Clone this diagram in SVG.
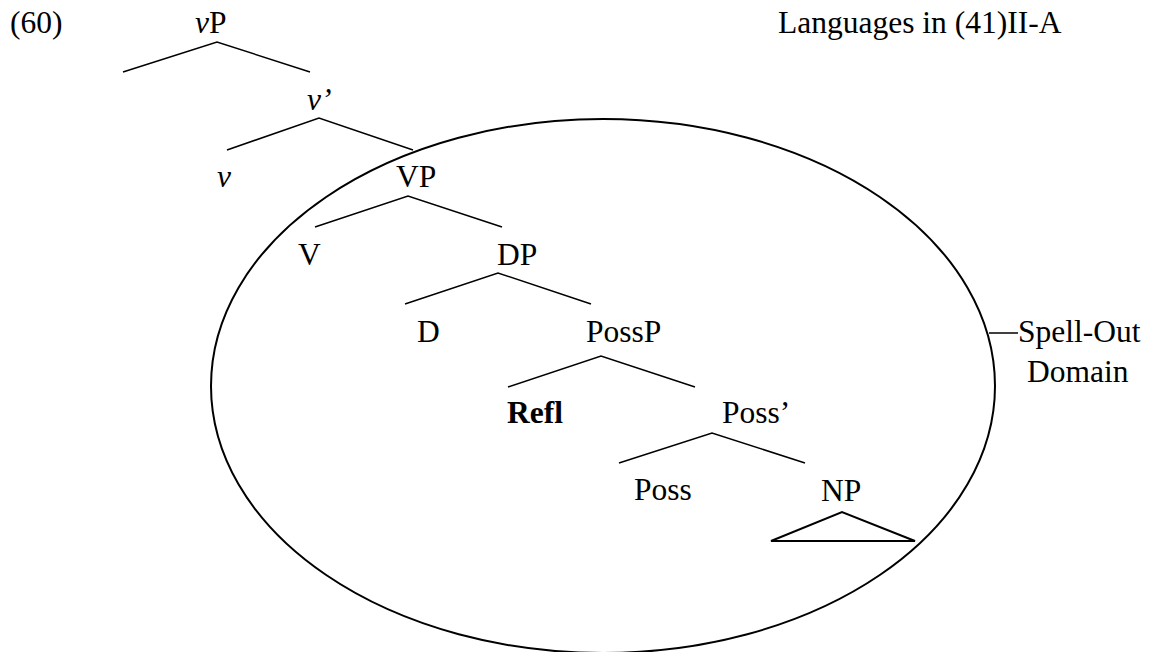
<svg xmlns="http://www.w3.org/2000/svg" width="1152" height="652" viewBox="0 0 1152 652">
<style>
text{font-family:'Liberation Serif',Tinos,'Times New Roman',Times,'Nimbus Roman','DejaVu Serif',serif;font-size:31.5px;fill:#000}
.it{font-style:italic}
.b{font-weight:bold}
.e{fill:none;stroke:#000;stroke-width:1.5}
.tri{fill:none;stroke:#000;stroke-width:2}
</style>
<rect width="1152" height="652" fill="#fff"/>
<g id="domain">
<ellipse cx="603" cy="386" rx="392" ry="267" fill="none" stroke="#000" stroke-width="2"/>
</g>
<g id="connectors">
<polyline class="e" points="123,72 217,42 310,72"/>
<polyline class="e" points="227,150 319,118 413,150"/>
<polyline class="e" points="315,227 408,196 502,227"/>
<polyline class="e" points="405,304 498,273 591,304"/>
<polyline class="e" points="508,387 601,356 695,387"/>
<polyline class="e" points="619,463 712,433 805,463"/>
<line class="e" x1="989" y1="333" x2="1018" y2="333"/>
</g>
<g id="label60"><text x="10" y="33">(60)</text></g>
<g id="title"><text x="778" y="33">Languages in (41)II-A</text></g>
<g id="vP"><text x="195" y="33"><tspan class="it">v</tspan>P</text></g>
<g id="vbar"><text x="307" y="110" class="it">v’</text></g>
<g id="v"><text x="217" y="187" class="it">v</text></g>
<g id="VP"><text x="396" y="187">VP</text></g>
<g id="V"><text x="298" y="265">V</text></g>
<g id="DP"><text x="497" y="265">DP</text></g>
<g id="D"><text x="417" y="342">D</text></g>
<g id="PossP"><text x="586" y="342">PossP</text></g>
<g id="Refl"><text x="507" y="423" class="b">Refl</text></g>
<g id="Possbar"><text x="722" y="423">Poss’</text></g>
<g id="Poss"><text x="634" y="500">Poss</text></g>
<g id="NP"><text x="821" y="501">NP</text><polygon class="tri" points="771,541 842,512 915,541"/></g>
<g id="spellout"><text x="1018" y="342">Spell-Out</text><text x="1027" y="382">Domain</text></g>
</svg>
